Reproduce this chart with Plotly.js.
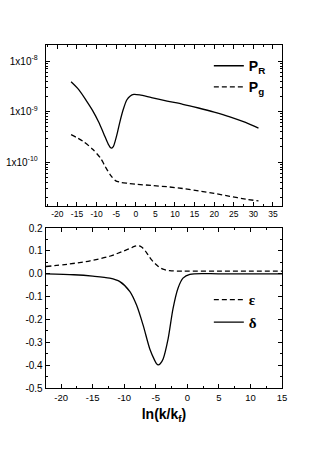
<!DOCTYPE html>
<html>
<head>
<meta charset="utf-8">
<script src="https://cdn.plot.ly/plotly-3.0.1.min.js"></script>
<style>html,body{margin:0;padding:0;background:#fff;}</style>
</head>
<body>
<div id="chart" style="width:313px;height:456px;"></div>
<script>
// ---- Top panel: power spectra ----
const prX = [-16.5, -14.5, -12.5, -11, -9.5, -8.2, -7.0, -6.5, -6.1, -5.7, -5.2, -4.7, -4.0, -3.2, -2.3, -1.4, -0.5, 1, 4, 8, 12, 16, 20, 24, 28, 31.3];
const prY = [3.9e-9, 2.7e-9, 1.6e-9, 1.05e-9, 6.3e-10, 3.7e-10, 2.25e-10, 1.95e-10, 1.9e-10, 2.05e-10, 2.7e-10, 3.8e-10, 6.5e-10, 1.1e-9, 1.7e-9, 2.05e-9, 2.2e-9, 2.15e-9, 1.9e-9, 1.62e-9, 1.4e-9, 1.18e-9, 9.8e-10, 7.9e-10, 6.1e-10, 4.7e-10];
const pgX = [-16.5, -13.5, -11, -9, -7.8, -6.5, -5.2, -4, -2, 0, 4, 8, 12, 16, 20, 24, 28, 31.3];
const pgY = [3.5e-10, 2.6e-10, 1.8e-10, 1.2e-10, 8.2e-11, 5.6e-11, 4.3e-11, 4.0e-11, 3.8e-11, 3.65e-11, 3.45e-11, 3.25e-11, 3.0e-11, 2.7e-11, 2.4e-11, 2.1e-11, 1.85e-11, 1.7e-11];

// ---- Bottom panel: slow-roll parameters ----
const epsX = [-22.4, -19, -15.4, -12.3, -10.2, -9, -8.5, -8.0, -7.6, -7.2, -6.7, -6.2, -5.7, -5, -4.4, -3.6, -2.8, -1.5, 0, 5, 10, 15];
const epsY = [0.032, 0.042, 0.057, 0.077, 0.099, 0.112, 0.119, 0.123, 0.122, 0.116, 0.102, 0.082, 0.062, 0.042, 0.028, 0.018, 0.014, 0.012, 0.012, 0.012, 0.012, 0.012];
const delX = [-22.4, -18, -15, -12.3, -10.7, -9.1, -8.05, -7.0, -5.95, -5.16, -4.9, -4.6, -4.3, -3.84, -3.05, -2.27, -1.48, -0.69, 0.4, 5, 10, 15];
const delY = [0, -0.004, -0.01, -0.019, -0.034, -0.078, -0.137, -0.226, -0.329, -0.38, -0.393, -0.399, -0.394, -0.373, -0.285, -0.152, -0.063, -0.019, -0.002, 0, 0, 0];

// ---- Tick labels ----
const topXTicks = [-20, -15, -10, -5, 0, 5, 10, 15, 20, 25, 30, 35];
const topXText = ["-20", "-15", "-10", "-5", "0", "5", "10", "15", "20", "25", "30", "35"];
const topYTicks = [1e-10, 1e-9, 1e-8];
const topYText = ["1x10<sup>-10</sup>", "1x10<sup>-9</sup>", "1x10<sup>-8</sup>"];
const botXTicks = [-20, -15, -10, -5, 0, 5, 10, 15];
const botXText = ["-20", "-15", "-10", "-5", "0", "5", "10", "15"];
const botYTicks = [0.2, 0.1, 0.0, -0.1, -0.2, -0.3, -0.4, -0.5];
const botYText = ["0.2", "0.1", "0.0", "-0.1", "-0.2", "-0.3", "-0.4", "-0.5"];

const logMinor = [];
[-11, -10, -9, -8].forEach(e => { for (let m = 2; m <= 9; m++) logMinor.push(m * Math.pow(10, e)); });

const lineW = 1.3;
const dashS = '5px,3px';

const traces = [
  {x: prX, y: prY, xaxis: 'x', yaxis: 'y', mode: 'lines', name: '<b>P<sub>R</sub></b>',
   line: {color: '#000', width: lineW, shape: 'spline', smoothing: 0.8}, legend: 'legend'},
  {x: pgX, y: pgY, xaxis: 'x', yaxis: 'y', mode: 'lines', name: '<b>P<sub>g</sub></b>',
   line: {color: '#000', width: lineW, shape: 'spline', smoothing: 0.8, dash: dashS}, legend: 'legend'},
  {x: epsX, y: epsY, xaxis: 'x2', yaxis: 'y2', mode: 'lines', name: '<b>ε</b>',
   line: {color: '#000', width: lineW, shape: 'spline', smoothing: 1, dash: dashS}, legend: 'legend2'},
  {x: delX, y: delY, xaxis: 'x2', yaxis: 'y2', mode: 'lines', name: '<b>δ</b>',
   line: {color: '#000', width: lineW, shape: 'spline', smoothing: 0.8}, legend: 'legend2'}
];

const axBase = {
  showline: true, linecolor: '#000', linewidth: 1.3, mirror: 'allticks',
  ticks: 'inside', ticklen: 4, tickwidth: 1, tickcolor: '#000',
  showgrid: false, zeroline: false, fixedrange: true,
  tickfont: {family: 'Liberation Sans, Arial, sans-serif', size: 9, color: '#000'}
};

const layout = {
  width: 313, height: 456,
  margin: {l: 46, r: 31, t: 45, b: 68},
  paper_bgcolor: '#fff', plot_bgcolor: '#fff',
  showlegend: true,
  xaxis: Object.assign({}, axBase, {
    domain: [0, 1], anchor: 'y', range: [-22.9, 37.3],
    tickmode: 'array', tickvals: topXTicks, ticktext: topXText,
    tickfont: {family: 'Liberation Sans, Arial, sans-serif', size: 8.5, color: '#000'},
    minor: {dtick: 2.5, tick0: 0, ticks: 'inside', ticklen: 2, tickcolor: '#000', showgrid: false}
  }),
  yaxis: Object.assign({}, axBase, {
    domain: [0.532, 1], anchor: 'x', type: 'log', range: [-10.86, -7.68],
    tickmode: 'array', tickvals: topYTicks, ticktext: topYText,
    tickfont: {family: 'Liberation Sans, Arial, sans-serif', size: 10, color: '#000'},
    ticklabelstandoff: 5,
    minor: {tickmode: 'array', tickvals: logMinor, ticks: 'inside', ticklen: 2, tickcolor: '#000', showgrid: false}
  }),
  xaxis2: Object.assign({}, axBase, {
    domain: [0, 1], anchor: 'y2', range: [-22.4, 15],
    tickmode: 'array', tickvals: botXTicks, ticktext: botXText,
    tickfont: {family: 'Liberation Sans, Arial, sans-serif', size: 9.5, color: '#000'},
    minor: {dtick: 2.5, tick0: 0, ticks: 'inside', ticklen: 2, tickcolor: '#000', showgrid: false},
    title: {text: '<b>ln(k/k<sub>f</sub>)</b>', font: {family: 'Liberation Sans, Arial, sans-serif', size: 14, color: '#000'}, standoff: 7}
  }),
  yaxis2: Object.assign({}, axBase, {
    domain: [0, 0.466], anchor: 'x2', range: [-0.5, 0.2],
    tickmode: 'array', tickvals: botYTicks, ticktext: botYText,
    tickfont: {family: 'Liberation Sans, Arial, sans-serif', size: 10, color: '#000'},
    minor: {dtick: 0.05, tick0: 0, ticks: 'inside', ticklen: 2, tickcolor: '#000', showgrid: false}
  }),
  legend: {
    x: 0.69, y: 0.985, xanchor: 'left', yanchor: 'top',
    bgcolor: 'rgba(0,0,0,0)', borderwidth: 0, tracegroupgap: 0,
    font: {family: 'Liberation Sans, Arial, sans-serif', size: 14, color: '#000'}
  },
  legend2: {
    x: 0.69, y: 0.305, xanchor: 'left', yanchor: 'top',
    bgcolor: 'rgba(0,0,0,0)', borderwidth: 0, tracegroupgap: 0,
    font: {family: 'Liberation Serif, Times New Roman, serif', size: 15, color: '#000'}
  }
};

Plotly.newPlot('chart', traces, layout, {displayModeBar: false, staticPlot: true});
</script>
</body>
</html>
